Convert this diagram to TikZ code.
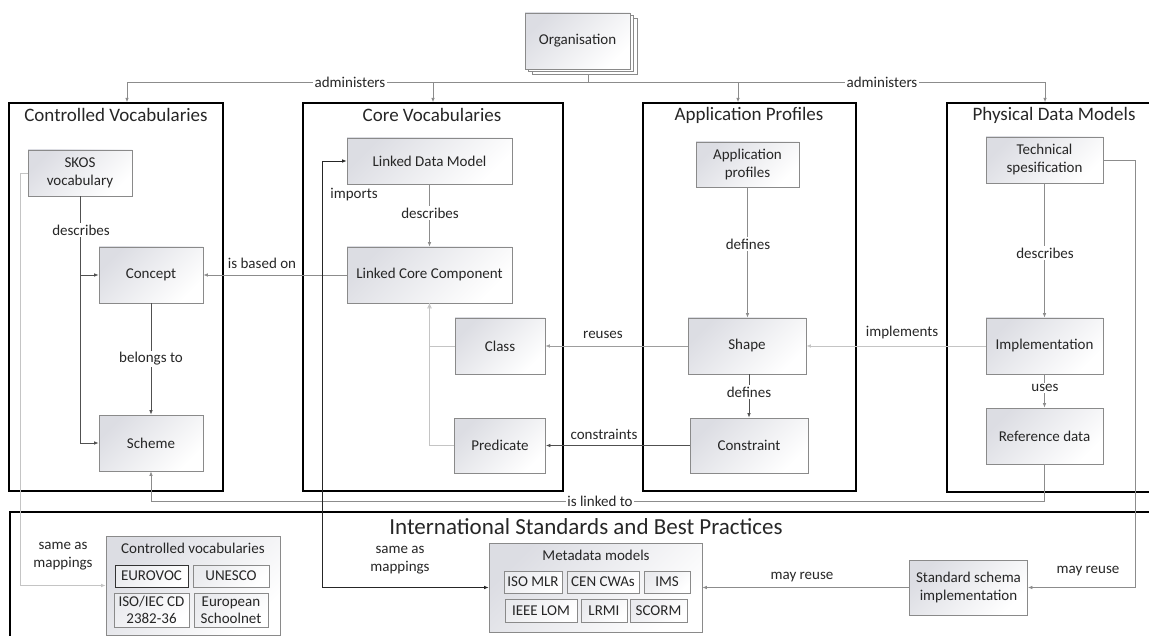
\documentclass[tikz,border=0pt]{standalone}
\usepackage{fontspec}
\setmainfont{Carlito}
\usetikzlibrary{arrows.meta,calc}
\definecolor{bx}{HTML}{8A8A8A}
\definecolor{shadeC}{HTML}{DCDDE3}
\definecolor{txt}{HTML}{262626}
\definecolor{cdark}{HTML}{505050}
\definecolor{cmid}{HTML}{8C8C8C}
\definecolor{clight}{HTML}{C4C4C4}
\tikzset{
  box/.style={draw=bx, line width=0.8pt, top color=shadeC, bottom color=white, shading angle=45,
    align=center, inner sep=0pt, font=\fontsize{15}{18}\selectfont, text=txt},
  sbox/.style={draw=bx, line width=0.8pt, top color=shadeC!60, bottom color=white, shading angle=45,
    align=center, inner sep=0pt, font=\fontsize{15}{17}\selectfont, text=txt},
  panel/.style={draw=black, line width=1.4pt, inner sep=0pt},
  ptitle/.style={font=\fontsize{19}{22}\selectfont, text=txt, inner sep=0pt},
  lbl/.style={font=\fontsize{15}{17.5}\selectfont, text=txt, inner sep=1.5pt, align=center},
  onl/.style={lbl, fill=white},
  conn/.style={line width=0.8pt, draw=cdark},
  arr/.style={-{Latex[length=4.5pt,width=3.6pt]}},
}
\begin{document}
\begin{tikzpicture}[x=1pt,y=-1pt]
\useasboundingbox (0,0) rectangle (1149,636);
\clip (0,0) rectangle (1149,636);

% panels
\node[panel, minimum width=214, minimum height=388] (cvp) at (116,297) {};
\node[panel, minimum width=260, minimum height=388] (corep) at (433,297) {};
\node[panel, minimum width=213, minimum height=388] (app) at (749.5,297) {};
\node[panel, minimum width=213, minimum height=389] (phys) at (1053.5,297.5) {};
\node[panel, minimum width=1150, minimum height=148] (intp) at (585,586) {};

\node[ptitle] (tcv) at (116,115) {Controlled Vocabularies};
\node[ptitle] (tcore) at (432,115) {Core Vocabularies};
\node[ptitle] (tapp) at (749,115) {Application Profiles};
\node[ptitle] (tphys) at (1054,115) {Physical Data Models};
\node[ptitle, font=\fontsize{23}{26}\selectfont] (tint) at (586,527) {International Standards and Best Practices};

% organisation stack
\node[draw=bx, fill=white, line width=0.8pt, minimum width=105, minimum height=56] (org3) at (584.5,46) {};
\node[draw=bx, fill=white, line width=0.8pt, minimum width=105, minimum height=56] (org2) at (581,43.5) {};
\node[box, minimum width=105, minimum height=56] (org) at (577.5,41) {Organisation};

% controlled vocabularies
\node[box, minimum width=104, minimum height=46] (skos) at (80,173) {SKOS\\vocabulary};
\node[box, minimum width=104, minimum height=56] (concept) at (151,275) {Concept};
\node[box, minimum width=104, minimum height=56] (scheme) at (151,443) {Scheme};

% core vocabularies
\node[box, minimum width=165, minimum height=46] (ldm) at (429.5,161) {Linked Data Model};
\node[box, minimum width=165, minimum height=56] (lcc) at (429.5,275) {Linked Core Component};
\node[box, minimum width=90, minimum height=56] (cls) at (500,346) {Class};
\node[box, minimum width=91, minimum height=55] (pred) at (500,445.5) {Predicate};

% application profiles
\node[box, minimum width=103, minimum height=45] (apr) at (747.5,164.5) {Application\\profiles};
\node[box, minimum width=118, minimum height=56] (shape) at (747,346) {Shape};
\node[box, minimum width=118, minimum height=55] (cons) at (749,445.5) {Constraint};

% physical data models
\node[box, minimum width=117, minimum height=46] (tech) at (1044.5,160) {Technical\\spesification};
\node[box, minimum width=117, minimum height=56] (impl) at (1044.5,346) {Implementation};
\node[box, minimum width=117, minimum height=56] (ref) at (1044.5,436) {Reference data};

% international standards
\node[box, minimum width=174, minimum height=99] (cvb) at (193,585.5) {};
\node[lbl, inner sep=0pt] (cvbt) at (193,548) {Controlled vocabularies};
\node[sbox, draw=black!80, minimum width=73, minimum height=22] (eurovoc) at (151.5,576) {EUROVOC};
\node[sbox, minimum width=76, minimum height=22] (unesco) at (231,576) {UNESCO};
\node[sbox, minimum width=75, minimum height=34] (isoiec) at (151.5,610) {ISO/IEC CD\\2382-36};
\node[sbox, minimum width=74, minimum height=34] (eusch) at (231,610) {European\\Schoolnet};

\node[box, minimum width=213, minimum height=89] (mdm) at (595.5,587.5) {};
\node[lbl, inner sep=0pt] (mdmt) at (596,555) {Metadata models};
\node[sbox, minimum width=58, minimum height=22] (isomlr) at (533,582) {ISO MLR};
\node[sbox, minimum width=72, minimum height=22] (cen) at (603,582) {CEN CWAs};
\node[sbox, minimum width=46, minimum height=22] (ims) at (667,582) {IMS};
\node[sbox, minimum width=72, minimum height=23] (ieee) at (541,610.5) {IEEE LOM};
\node[sbox, minimum width=46, minimum height=23] (lrmi) at (604,610.5) {LRMI};
\node[sbox, minimum width=57, minimum height=23] (scorm) at (658.5,610.5) {SCORM};

\node[box, minimum width=118, minimum height=55] (std) at (968.5,587.5) {Standard schema\\implementation};

% administers
\draw[conn, draw=cmid] ([xshift=3.5pt]org3.south) -- ++(0,8) coordinate (hub);
\draw[conn, draw=cmid, arr] (hub) -| ([xshift=11pt]cvp.north);
\draw[conn, draw=cmid, arr] (hub) -| (corep.north);
\draw[conn, draw=cmid, arr] (hub) -| ([xshift=-11.5pt]app.north);
\draw[conn, draw=cmid, arr] (hub) -| ([xshift=-8.5pt]phys.north);
\node[onl] (adm1) at (350,82) {administers};
\node[onl] (adm2) at (882,82) {administers};

% controlled vocabularies connectors
\draw[conn, arr] (skos.south) -- (skos.south |- scheme.west) -- (scheme.west);
\draw[conn, arr] (skos.south |- concept.west) -- (concept.west);
\node[onl] (ldesc1) at (81,230) {describes};
\draw[conn, arr] (concept.south) -- (scheme.north);
\node[onl] (lbel) at (151,359) {belongs to};

% core vocabularies connectors
\draw[conn, draw=cmid, arr] (lcc.west) -- (concept.east);
\node[lbl] (lbas) at (262,263) {is based on};
\draw[conn, draw=cmid, arr] (ldm.south) -- (lcc.north);
\node[onl] (ldesc2) at (430,213) {describes};
\draw[conn, draw=clight] (cls.west) -| (lcc.south);
\draw[conn, draw=clight, -{Triangle[open,length=5pt,width=4.5pt]}] (pred.west) -| (lcc.south);

% application profiles connectors
\draw[conn, draw=cmid, arr] (apr.south) -- (apr.south |- shape.north);
\node[onl] (ldef1) at (748,244) {defines};
\draw[conn, arr] (cons.north |- shape.south) -- (cons.north);
\node[onl] (ldef2) at (749,392) {defines};
\draw[conn, draw=clight!80!black, arr] (shape.west) -- (cls.east);
\node[lbl] (lreu) at (603,335) {reuses};
\draw[conn, arr] (cons.west) -- (pred.east);
\node[lbl] (lcon) at (604,434) {constraints};

% physical data models connectors
\draw[conn, draw=cmid, arr] (tech.south) -- (impl.north);
\node[onl] (ldesc3) at (1045,253) {describes};
\draw[conn, draw=cmid, arr] (impl.south) -- (ref.north);
\node[onl] (luse) at (1045,388) {uses};
\draw[conn, draw=clight, arr] (impl.west) -- (shape.east);
\node[lbl] (limp) at (902,333) {implements};

% long connectors
\draw[conn, draw=cmid, arr] (ref.south) -- ++(0,37) -| (scheme.south);
\node[onl] (llink) at (600,501) {is linked to};
\draw[conn, draw=clight, arr] (skos.west) -- ++(-7,0) |- (cvb.west);
\node[lbl] (lsame1) at (63,556) {same as\\mappings};
\draw[conn, draw=black!85, {Latex[length=4.5pt,width=3.6pt]}-{Latex[length=4.5pt,width=3.6pt]}] (ldm.west) -- ++(-24,0) |- (mdm.west);
\node[lbl] (limpo) at (354,195) {imports};
\node[lbl] (lsame2) at (400,560) {same as\\mappings};
\draw[conn, draw=cmid, arr] (std.west) -- (mdm.east);
\node[lbl] (lmay1) at (802,577) {may reuse};
\draw[conn, draw=cmid, arr] (tech.east) -- ++(32,0) |- (std.east);
\node[lbl] (lmay2) at (1088,571) {may reuse};
\end{tikzpicture}
\end{document}
